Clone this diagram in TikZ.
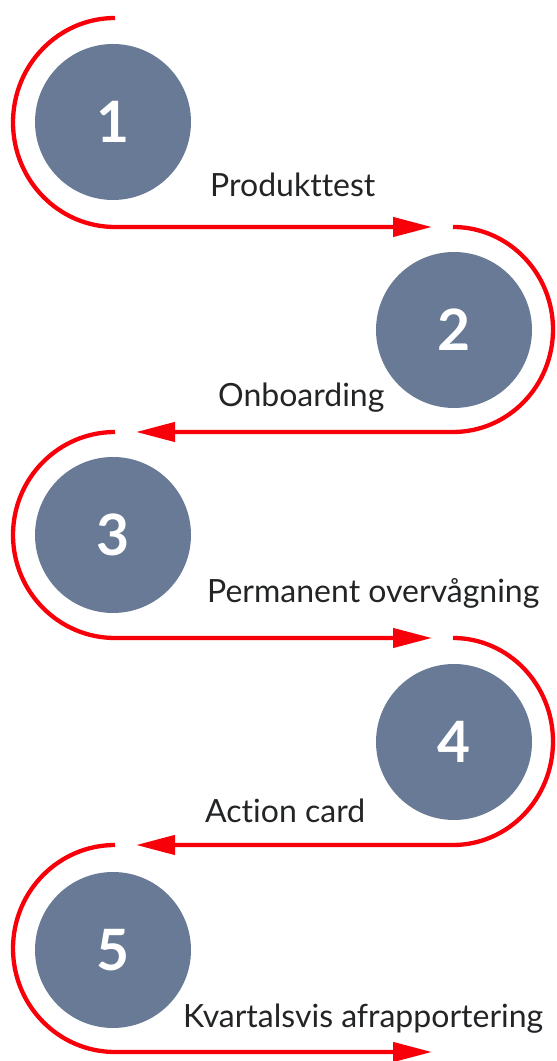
\documentclass[tikz,border=0pt]{standalone}
\usepackage{fontspec}
\setmainfont{Lato}[Ligatures=NoCommon]
\usetikzlibrary{arrows.meta}
\definecolor{flowred}{RGB}{248,0,10}
\definecolor{circfill}{RGB}{104,122,149}
\definecolor{labeltext}{RGB}{34,36,38}
\begin{document}
\begin{tikzpicture}[x=1pt,y=1pt,
  numcirc/.style={circle,fill=circfill,draw=none,minimum size=156pt,inner sep=0pt,
    text=white,font=\fontsize{57}{57}\selectfont\bfseries},
  steplabel/.style={anchor=base west,inner sep=0pt,text=labeltext,
    font=\fontsize{32}{32}\selectfont},
  flow/.style={draw=flowred,line width=4.3pt},
  flowarrow/.style={flow,-{Triangle[length=39pt,width=19pt]}}]
\useasboundingbox (0,0) rectangle (557,1061);
% circles
\node[numcirc] (c1) at (113,939) {1};
\node[numcirc] (c2) at (454,731) {2};
\node[numcirc] (c3) at (113,526) {3};
\node[numcirc] (c4) at (454,319) {4};
\node[numcirc] (c5) at (113,111) {5};
% path points
\coordinate (s1) at (115,1043);
\coordinate (e1) at (432,834);
\coordinate (s2) at (453,834);
\coordinate (e2) at (136,629);
\coordinate (s3) at (115,629);
\coordinate (e3) at (432,423);
\coordinate (s4) at (453,423);
\coordinate (e4) at (136,216);
\coordinate (s5) at (115,216);
\coordinate (e5) at (432,9);
% connectors
\draw[flowarrow] (s1) arc[start angle=90,end angle=270,x radius=102pt,y radius=104.5pt] -- (e1);
\draw[flowarrow] (s2) arc[start angle=90,end angle=-90,x radius=100pt,y radius=102.5pt] -- (e2);
\draw[flowarrow] (s3) arc[start angle=90,end angle=270,x radius=102pt,y radius=103pt] -- (e3);
\draw[flowarrow] (s4) arc[start angle=90,end angle=-90,x radius=100pt,y radius=103.5pt] -- (e4);
\draw[flowarrow] (s5) arc[start angle=90,end angle=270,x radius=102pt,y radius=103.5pt] -- (e5);
% labels
\node[steplabel] (t1) at (210,864) {Produkttest};
\node[steplabel] (t2) at (218,654) {Onboarding};
\node[steplabel] (t3) at (207,458) {Permanent overvågning};
\node[steplabel] (t4) at (205,238) {Action card};
\node[steplabel] (t5) at (183,33) {Kvartalsvis afrapportering};
\end{tikzpicture}
\end{document}
